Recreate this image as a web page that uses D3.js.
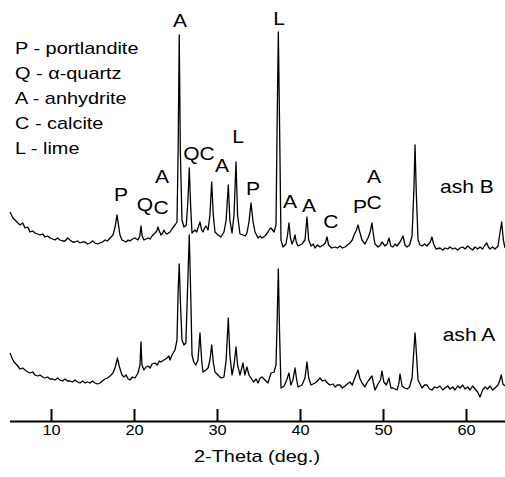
<!DOCTYPE html>
<html>
<head>
<meta charset="utf-8">
<script src="https://cdn.jsdelivr.net/npm/d3@7.9.0/dist/d3.min.js"></script>
<style>
  body { margin: 0; background: #fff; }
  svg { display: block; font-family: "Liberation Sans", Arial, sans-serif; }
</style>
</head>
<body>
<div id="chart"></div>
<script>
// 2-theta (deg.) and intensity (arbitrary units, stacked as plotted)
const ashB = [
  [5.06,209],[5.42,203],[5.90,199],[6.27,196],[6.60,198],[6.87,193],[7.20,194],[7.47,189],[7.80,190],
  [8.07,188],[8.40,187],[8.67,186],[9.00,187],[9.28,184],[9.60,185],[9.88,183],[10.20,182],[10.48,181],
  [10.80,183],[11.08,181],[11.40,180],[11.69,180],[12.00,183],[12.29,181],[12.60,179],[12.89,179],
  [13.20,180],[13.49,178],[13.80,179],[14.10,179],[14.40,177],[14.70,178],[15.00,180],[15.30,178],
  [15.60,177],[15.90,178],[16.20,179],[16.51,181],[16.80,180],[17.11,183],[17.47,186],[17.75,195],
  [17.95,206],[18.15,195],[18.31,186],[18.55,181],[18.80,180],[19.04,179],[19.30,181],[19.52,180],
  [19.80,182],[20.12,183],[20.48,181],[20.70,185],[20.84,195],[20.98,185],[21.20,181],[21.45,182],
  [21.69,183],[21.95,182],[22.17,185],[22.53,188],[22.75,190],[22.89,194],[23.05,190],[23.25,186],
  [23.45,188],[23.61,191],[23.80,188],[23.98,187],[24.34,189],[24.58,192],[24.94,196],[25.18,199],
  [25.32,271],[25.45,386],[25.58,271],[25.78,201],[26.02,194],[26.30,196],[26.50,221],[26.66,253],
  [26.82,216],[26.99,188],[27.35,191],[27.55,189],[27.71,193],[27.95,199],[28.15,191],[28.31,189],
  [28.50,193],[28.67,195],[28.92,191],[29.15,206],[29.36,239],[29.55,206],[29.76,189],[30.12,186],
  [30.48,184],[30.84,189],[31.10,201],[31.36,236],[31.55,201],[31.81,188],[32.05,206],[32.29,259],
  [32.48,206],[32.77,187],[33.13,186],[33.40,185],[33.61,188],[33.85,199],[34.10,218],[34.35,199],
  [34.58,189],[34.94,183],[35.20,185],[35.42,183],[35.78,185],[36.14,189],[36.35,192],[36.51,193],
  [36.87,189],[37.11,196],[37.25,301],[37.39,389],[37.53,301],[37.71,181],[37.95,174],[38.31,177],
  [38.50,186],[38.67,198],[38.85,183],[39.04,177],[39.25,181],[39.40,186],[39.55,179],[39.76,175],
  [40.24,177],[40.60,181],[40.84,204],[41.05,181],[41.33,175],[41.60,177],[41.81,173],[42.10,176],
  [42.41,174],[42.80,176],[43.05,178],[43.25,184],[43.45,176],[43.80,173],[44.22,174],[44.50,173],
  [44.82,175],[45.10,173],[45.42,174],[45.70,176],[46.02,178],[46.30,181],[46.51,186],[46.80,191],
  [46.99,196],[47.20,189],[47.47,181],[47.83,177],[48.19,183],[48.45,189],[48.67,198],[48.90,183],
  [49.04,177],[49.40,174],[49.70,176],[49.88,179],[50.24,175],[50.50,177],[50.72,183],[50.95,175],
  [51.20,174],[51.45,177],[51.69,175],[52.05,179],[52.41,185],[52.65,176],[52.89,174],[53.20,176],
  [53.50,185],[53.72,231],[53.86,276],[54.00,231],[54.22,181],[54.46,176],[54.70,175],[55.00,177],
  [55.30,175],[55.70,179],[55.90,184],[56.10,177],[56.39,172],[56.87,173],[57.20,171],[57.47,173],
  [57.80,172],[58.07,174],[58.40,172],[58.67,173],[59.00,171],[59.28,173],[59.60,174],[59.88,172],
  [60.20,175],[60.48,173],[60.80,171],[61.08,174],[61.40,172],[61.69,174],[62.00,172],[62.29,176],
  [62.50,178],[62.70,174],[62.89,172],[63.20,174],[63.49,172],[63.86,175],[64.05,186],[64.30,199],
  [64.50,181],[64.70,173]
];

const ashA = [
  [5.06,68],[5.30,63],[5.55,59],[5.90,56],[6.27,52],[6.60,53],[6.87,51],[7.20,49],[7.47,48],[7.80,49],
  [8.07,46],[8.40,45],[8.67,46],[9.00,44],[9.28,43],[9.60,44],[9.88,42],[10.20,42],[10.48,41],[10.80,43],
  [11.08,41],[11.40,40],[11.69,42],[12.00,40],[12.29,40],[12.60,39],[12.89,41],[13.20,39],[13.49,38],
  [13.80,40],[14.10,38],[14.40,39],[14.70,38],[15.00,40],[15.30,38],[15.60,37],[15.90,38],[16.20,40],
  [16.51,42],[16.80,43],[17.11,45],[17.47,48],[17.75,54],[18.00,63],[18.25,54],[18.55,46],[18.80,44],
  [19.04,46],[19.30,42],[19.52,41],[19.80,44],[20.12,43],[20.48,48],[20.72,56],[20.84,79],[20.96,56],
  [21.20,51],[21.45,54],[21.69,55],[21.95,53],[22.17,57],[22.53,58],[22.80,56],[23.05,60],[23.25,59],
  [23.61,61],[23.98,63],[24.20,65],[24.34,61],[24.58,66],[24.94,71],[25.18,81],[25.32,131],[25.45,157],
  [25.58,121],[25.78,81],[26.02,76],[26.25,78],[26.45,131],[26.66,186],[26.85,121],[26.99,66],[27.20,59],
  [27.45,56],[27.71,61],[27.95,88],[28.15,61],[28.31,49],[28.67,51],[28.92,53],[29.15,61],[29.36,76],
  [29.55,59],[29.76,49],[30.12,46],[30.48,43],[30.84,44],[31.10,61],[31.36,103],[31.55,66],[31.81,46],
  [32.05,56],[32.29,74],[32.48,56],[32.77,46],[33.13,58],[33.35,46],[33.61,54],[33.85,46],[34.10,43],
  [34.40,39],[34.70,42],[34.94,38],[35.20,43],[35.42,44],[35.78,41],[36.14,38],[36.51,48],[36.87,49],
  [37.11,56],[37.25,101],[37.39,152],[37.53,91],[37.71,33],[38.10,35],[38.40,41],[38.67,48],[38.90,36],
  [39.15,41],[39.40,53],[39.60,41],[39.76,34],[40.24,36],[40.60,43],[40.84,59],[41.05,43],[41.33,36],
  [41.81,38],[42.10,40],[42.41,43],[42.70,40],[43.01,41],[43.30,38],[43.61,36],[44.00,37],[44.22,34],
  [44.50,36],[44.82,36],[45.10,33],[45.42,35],[45.70,37],[46.02,39],[46.30,36],[46.60,43],[46.99,51],
  [47.20,43],[47.47,38],[47.83,34],[48.05,38],[48.30,41],[48.67,45],[48.90,36],[49.04,31],[49.40,37],
  [49.70,41],[49.88,50],[50.10,39],[50.40,36],[50.72,43],[50.95,33],[51.20,33],[51.69,31],[51.90,37],
  [52.05,47],[52.30,35],[52.60,33],[52.89,32],[53.20,34],[53.50,43],[53.72,71],[53.86,88],[54.00,71],
  [54.22,41],[54.46,37],[54.70,33],[55.00,36],[55.30,36],[55.60,32],[55.90,31],[56.20,34],[56.50,33],
  [56.87,35],[57.20,31],[57.47,33],[57.80,35],[58.07,32],[58.40,34],[58.67,31],[59.00,35],[59.28,33],
  [59.60,36],[59.88,32],[60.20,34],[60.48,31],[60.80,35],[61.08,32],[61.40,29],[61.69,24],[62.00,31],
  [62.29,34],[62.60,32],[62.89,35],[63.20,31],[63.49,33],[63.86,36],[64.05,40],[64.25,46],[64.45,37],
  [64.70,35]
];

const xTicks = [10, 20, 30, 40, 50, 60];

// phase key
const legendItems = ["P - portlandite", "Q - \u03b1-quartz", "A - anhydrite", "C - calcite", "L - lime"];

// peak labels: letter, 2-theta, intensity
const peakLabels = [
  ["A", 25.54, 394], ["L", 37.47, 396], ["P", 18.43, 220], ["Q", 21.33, 210], ["C", 23.25, 207],
  ["A", 23.37, 238], ["QC", 27.83, 261], ["A", 30.60, 249], ["L", 32.53, 278], ["P", 34.34, 226],
  ["A", 38.80, 213], ["A", 41.08, 209], ["C", 43.73, 193], ["P", 47.23, 208], ["C", 48.92, 212],
  ["A", 48.92, 238]
];

const traceLabels = [["ash B", 60.12, 228], ["ash A", 60.36, 80]];

const width = 505;
const height = 477;
const stretch = 1.17; // text in the reference is a bit wide

const svg = d3.select("#chart")
  .append("svg")
  .attr("width", width)
  .attr("height", height);

const x = d3.scaleLinear().domain([5, 65]).range([9.5, 507.5]);
const y = d3.scaleLinear().domain([0, 400]).range([421, 21]);

const line = d3.line()
  .x(d => x(d[0]))
  .y(d => y(d[1]));

svg.selectAll("path.trace")
  .data([ashB, ashA])
  .join("path")
  .attr("class", "trace")
  .attr("d", line)
  .attr("fill", "none")
  .attr("stroke", "#000")
  .attr("stroke-width", 1.3)
  .attr("stroke-linejoin", "round");

// x axis, ticks pointing up
const axis = svg.append("g")
  .attr("transform", `translate(0, ${y(0)})`)
  .call(d3.axisBottom(x).tickValues(xTicks).tickSizeInner(-12).tickSizeOuter(0).tickPadding(4));

axis.select(".domain").attr("stroke-width", 2.2);
axis.selectAll(".tick line").attr("stroke-width", 2);
axis.selectAll(".tick text")
  .attr("font-size", 14)
  .attr("font-family", "Liberation Sans, Arial, sans-serif")
  .attr("fill", "#000")
  .attr("transform", `scale(${stretch},1)`);

function addText(tx, ty, str, size, anchor) {
  svg.append("g")
    .attr("transform", `translate(${tx},${ty})`)
    .append("text")
    .attr("transform", `scale(${stretch},1)`)
    .attr("text-anchor", anchor)
    .attr("font-size", size)
    .attr("fill", "#000")
    .text(str);
}

addText(257, 462, "2-Theta (deg.)", 17, "middle");

legendItems.forEach((t, i) => addText(15, 54 + i * 25, t, 17, "start"));

peakLabels.forEach(([t, th, v]) => addText(x(th), y(v), t, 18, "middle"));
traceLabels.forEach(([t, th, v]) => addText(x(th), y(v), t, 18, "middle"));
</script>
</body>
</html>
